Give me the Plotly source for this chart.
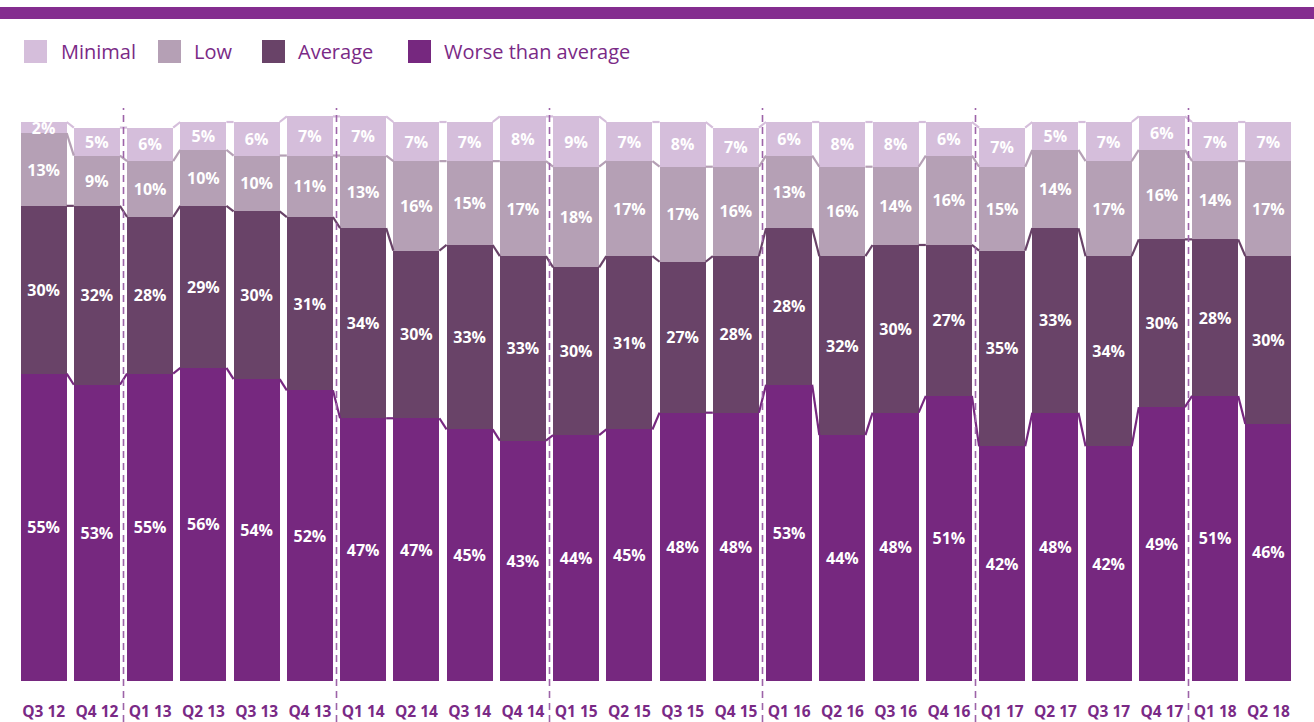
import plotly.graph_objects as go

categories = ["Q3 12", "Q4 12", "Q1 13", "Q2 13", "Q3 13", "Q4 13",
              "Q1 14", "Q2 14", "Q3 14", "Q4 14", "Q1 15", "Q2 15",
              "Q3 15", "Q4 15", "Q1 16", "Q2 16", "Q3 16", "Q4 16",
              "Q1 17", "Q2 17", "Q3 17", "Q4 17", "Q1 18", "Q2 18"]

worse = [55, 53, 55, 56, 54, 52, 47, 47, 45, 43, 44, 45, 48, 48, 53, 44, 48, 51, 42, 48, 42, 49, 51, 46]
average = [30, 32, 28, 29, 30, 31, 34, 30, 33, 33, 30, 31, 27, 28, 28, 32, 30, 27, 35, 33, 34, 30, 28, 30]
low = [13, 9, 10, 10, 10, 11, 13, 16, 15, 17, 18, 17, 17, 16, 13, 16, 14, 16, 15, 14, 17, 16, 14, 17]
minimal = [2, 5, 6, 5, 6, 7, 7, 7, 7, 8, 9, 7, 8, 7, 6, 8, 8, 6, 7, 5, 7, 6, 7, 7]

series_names = ["Worse than average", "Average", "Low", "Minimal"]
series_values = [worse, average, low, minimal]
series_colors = ["#76287f", "#694368", "#b5a0b5", "#d5bedb"]

W, H = 1314, 722
ML, MR, MT, MB = 17, 19, 100, 41
PW, PH = W - ML - MR, H - MT - MB
PX_PER_UNIT = 5.59
YMAX = PH / PX_PER_UNIT
BAR_W = 0.865
TEXT_COLOR = "#7a2a86"
FONT = "Open Sans"

def px_x(px):
    return (px - ML) / PW

def px_y(py):
    return (H - MB - py) / PH

x = list(range(len(categories)))
fig = go.Figure()

for name, vals, col in zip(series_names, series_values, series_colors):
    fig.add_trace(go.Bar(
        x=x, y=vals, name=name, width=BAR_W,
        marker=dict(color=col, line=dict(width=0)),
        text=[f"{v}%" for v in vals],
        texttemplate="%{text}",
        textposition="inside", insidetextanchor="middle", textangle=0,
        textfont=dict(color="white", size=16, family=FONT, weight=700),
        hoverinfo="skip", showlegend=False,
    ))

# connector lines between adjacent bars at each segment top
cum = [0] * len(categories)
for vals, col in zip(series_values, series_colors):
    cum = [c + v for c, v in zip(cum, vals)]
    lx, ly = [], []
    for i in range(len(categories) - 1):
        lx += [i + BAR_W / 2, i + 1 - BAR_W / 2, None]
        ly += [cum[i], cum[i + 1], None]
    fig.add_trace(go.Scatter(x=lx, y=ly, mode="lines",
                             line=dict(color=col, width=2.2),
                             hoverinfo="skip", showlegend=False))

shapes = []
# year separators (between Q4 and Q1)
for i, c in enumerate(categories[:-1]):
    if c.startswith("Q4"):
        shapes.append(dict(type="line", xref="x", yref="paper",
                           x0=i + 0.5, x1=i + 0.5, y0=px_y(722), y1=px_y(108),
                           line=dict(color="#9d63a8", width=1.6, dash="7px,5px"),
                           layer="above"))
# top band
shapes.append(dict(type="rect", xref="paper", yref="paper",
                   x0=px_x(-5), x1=px_x(W + 5), y0=px_y(19), y1=px_y(7),
                   fillcolor="#842d8f", line=dict(width=0)))

# legend (order as in reference)
legend_items = [("Minimal", "#d5bedb", 24, 59), ("Low", "#b5a0b5", 158, 192),
                ("Average", "#694368", 262, 296), ("Worse than average", "#76287f", 408, 442)]
annotations = []
for label, col, sx, tx in legend_items:
    shapes.append(dict(type="rect", xref="paper", yref="paper",
                       x0=px_x(sx), x1=px_x(sx + 23), y0=px_y(63), y1=px_y(40),
                       fillcolor=col, line=dict(width=0)))
    annotations.append(dict(xref="paper", yref="paper", x=px_x(tx), y=px_y(52),
                            xanchor="left", yanchor="middle", showarrow=False,
                            text=label, font=dict(size=20, color=TEXT_COLOR, family=FONT)))

fig.update_layout(
    width=W, height=H,
    margin=dict(l=ML, r=MR, t=MT, b=MB, autoexpand=False),
    barmode="stack",
    plot_bgcolor="white", paper_bgcolor="white",
    shapes=shapes, annotations=annotations,
    uniformtext=dict(minsize=16, mode="show"),
    xaxis=dict(range=[-0.5, len(categories) - 0.5], tickmode="array",
               tickvals=x, ticktext=categories, showgrid=False, zeroline=False,
               showline=False, ticks="", ticklabelstandoff=19, automargin=False,
               tickfont=dict(size=15.5, color=TEXT_COLOR, family=FONT, weight=700)),
    yaxis=dict(range=[0, YMAX], visible=False, showgrid=False, zeroline=False,
               automargin=False),
    showlegend=False,
)

fig.write_html("out.html",
               config={"displayModeBar": False},
               post_script="document.body.style.margin='0';document.body.style.overflow='hidden';")
